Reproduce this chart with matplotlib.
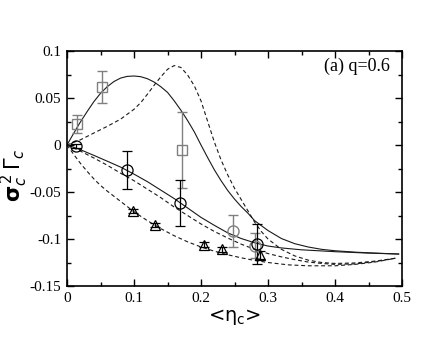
import numpy as np
import matplotlib
matplotlib.use('Agg')
import matplotlib.pyplot as plt
from matplotlib.ticker import MultipleLocator, FuncFormatter

plt.rcParams['axes.unicode_minus'] = False
plt.rcParams['mathtext.fontset'] = 'dejavusans'

# theory curves
x_solid_hump = [0, 0.01, 0.02, 0.03, 0.04, 0.05, 0.06, 0.07, 0.08, 0.09, 0.10, 0.11, 0.12,
                0.13, 0.14, 0.15, 0.16, 0.17, 0.18, 0.19, 0.20, 0.21, 0.22, 0.23, 0.24, 0.25,
                0.26, 0.27, 0.28, 0.30, 0.32, 0.34, 0.36, 0.38, 0.40, 0.43, 0.46, 0.495]
y_solid_hump = [0, 0.0125, 0.0245, 0.0355, 0.046, 0.055, 0.062, 0.0675, 0.0712, 0.073, 0.0734,
                0.0727, 0.0705, 0.067, 0.062, 0.056, 0.047, 0.037, 0.026, 0.014, 0.0, -0.0135,
                -0.0265, -0.038, -0.0485, -0.0575, -0.0655, -0.0725, -0.0805, -0.091, -0.0995,
                -0.105, -0.1085, -0.111, -0.1125, -0.114, -0.115, -0.116]

x_dash_hump = [0, 0.02, 0.04, 0.06, 0.08, 0.10, 0.11, 0.12, 0.13, 0.14, 0.15, 0.16, 0.17,
               0.18, 0.19, 0.20, 0.21, 0.22, 0.23, 0.24, 0.25, 0.26, 0.27, 0.28, 0.29, 0.30,
               0.32, 0.34, 0.36, 0.38, 0.40, 0.43, 0.46, 0.49]
y_dash_hump = [0, 0.0055, 0.0127, 0.0198, 0.0275, 0.038, 0.045, 0.054, 0.0635, 0.0725, 0.0805,
               0.0845, 0.0825, 0.0745, 0.063, 0.047, 0.025, 0.003, -0.016, -0.032, -0.046,
               -0.058, -0.07, -0.082, -0.092, -0.1, -0.111, -0.118, -0.1225, -0.125, -0.126,
               -0.1255, -0.1235, -0.1205]

x_solid_low = [0, 0.02, 0.04, 0.06, 0.08, 0.10, 0.12, 0.14, 0.16, 0.18, 0.20, 0.22, 0.24,
               0.26, 0.28, 0.30, 0.32, 0.35, 0.40, 0.45, 0.495]
y_solid_low = [0, -0.005, -0.011, -0.0172, -0.0235, -0.031, -0.039, -0.048, -0.057, -0.067,
               -0.077, -0.0855, -0.0935, -0.0995, -0.104, -0.1075, -0.1095, -0.1115, -0.1135,
               -0.115, -0.116]

x_dash_low = [0, 0.02, 0.04, 0.06, 0.08, 0.10, 0.12, 0.14, 0.16, 0.18, 0.20, 0.22, 0.24,
              0.26, 0.28, 0.30, 0.32, 0.34, 0.36, 0.38, 0.40, 0.43, 0.46, 0.49]
y_dash_low = [0, -0.0065, -0.0138, -0.0215, -0.03, -0.038, -0.047, -0.056, -0.066, -0.075,
              -0.084, -0.092, -0.099, -0.1055, -0.111, -0.1155, -0.119, -0.122, -0.1245,
              -0.126, -0.127, -0.1265, -0.124, -0.1205]

x_dash_tri = [0, 0.01, 0.02, 0.03, 0.04, 0.05, 0.06, 0.07, 0.08, 0.09, 0.10, 0.12, 0.14,
              0.16, 0.18, 0.20, 0.22, 0.24, 0.26, 0.28, 0.30, 0.33, 0.36, 0.40, 0.43, 0.46, 0.49]
y_dash_tri = [0, -0.01, -0.0195, -0.028, -0.036, -0.043, -0.049, -0.0545, -0.06, -0.0655,
              -0.071, -0.0805, -0.089, -0.0965, -0.103, -0.1085, -0.113, -0.1168, -0.12,
              -0.1228, -0.125, -0.1275, -0.1285, -0.1285, -0.127, -0.1245, -0.1205]

# simulation points
sq_x = [0.0145, 0.052, 0.172]
sq_y = [0.0223, 0.0617, -0.0055]
sq_err = [0.0095, 0.017, 0.0405]

circ_x = [0.013, 0.089, 0.169, 0.283]
circ_y = [-0.001, -0.0266, -0.0615, -0.1055]
circ_err = [0.002, 0.0205, 0.0245, 0.021]

circ2_x = [0.248, 0.281]
circ2_y = [-0.0915, -0.107]
circ2_err = [0.0168, 0.013]

tri_x = [0.099, 0.131, 0.204, 0.232, 0.288]
tri_y = [-0.070, -0.085, -0.106, -0.111, -0.117]
tri_err = [0.002, 0.002, 0.003, 0.003, 0.004]

fig = plt.figure(figsize=(4.36, 3.37), dpi=100)
ax = fig.add_axes([67 / 436, 51 / 337, 335 / 436, 235 / 337])

lc = '#1a1a1a'
dash = (0, (3.5, 2.5))
ax.plot(x_solid_hump, y_solid_hump, color=lc, lw=0.8)
ax.plot(x_solid_low, y_solid_low, color=lc, lw=0.8)
ax.plot(x_dash_hump, y_dash_hump, color=lc, lw=0.8, linestyle=dash)
ax.plot(x_dash_low, y_dash_low, color=lc, lw=0.8, linestyle=dash)
ax.plot(x_dash_tri, y_dash_tri, color=lc, lw=0.8, linestyle=dash)

gray = '#808080'
ax.errorbar(sq_x, sq_y, yerr=sq_err, fmt='s', ms=7, mfc='none', mec=gray, mew=1.0,
            ecolor=gray, elinewidth=1.0, capsize=3.5, capthick=1.0)
ax.errorbar(circ2_x, circ2_y, yerr=circ2_err, fmt='o', ms=8, mfc='none', mec=gray, mew=1.0,
            ecolor=gray, elinewidth=1.0, capsize=3.5, capthick=1.0)
ax.errorbar(circ_x, circ_y, yerr=circ_err, fmt='o', ms=8, mfc='none', mec='black', mew=0.9,
            ecolor='black', elinewidth=0.9, capsize=3.5, capthick=0.9)
ax.errorbar(tri_x, tri_y, yerr=tri_err, fmt='^', ms=7, mfc='none', mec='black', mew=0.9,
            ecolor='black', elinewidth=0.9, capsize=3.5, capthick=0.9)

ax.set_xlim(0, 0.5)
ax.set_ylim(-0.15, 0.1)
ax.xaxis.set_major_locator(MultipleLocator(0.1))
ax.xaxis.set_minor_locator(MultipleLocator(0.05))
ax.yaxis.set_major_locator(MultipleLocator(0.05))
ax.yaxis.set_minor_locator(MultipleLocator(0.025))
fmt = FuncFormatter(lambda v, p: '0' if abs(v) < 1e-9 else '{:g}'.format(round(v, 3)))
ax.xaxis.set_major_formatter(fmt)
ax.yaxis.set_major_formatter(fmt)
ax.tick_params(which='both', direction='in', top=True, right=True, width=1.0)
ax.tick_params(which='major', length=5, labelsize=11, pad=4)
ax.tick_params(which='minor', length=3)
for lab in ax.get_xticklabels() + ax.get_yticklabels():
    lab.set_family('Liberation Serif')
for s in ax.spines.values():
    s.set_linewidth(1.2)

ax.text(0.482, 0.093, '(a) q=0.6', ha='right', va='top', fontsize=13,
        family='Liberation Serif')

ax.set_xlabel(r'<$\mathregular{\eta_c}$>', fontsize=14, labelpad=2)
ax.set_ylabel(r'$\mathbf{\sigma}_c^{\,2}\,\Gamma_c$', fontsize=15)
ax.yaxis.set_label_coords(-0.11, 0.47)

plt.savefig('out.png', dpi=100)
